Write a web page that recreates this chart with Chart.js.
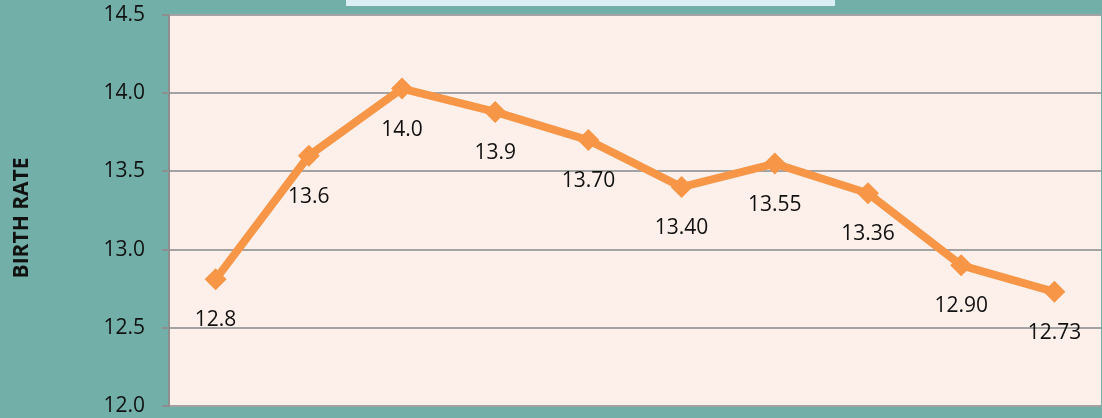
<!DOCTYPE html>
<html>
<head>
<meta charset="utf-8">
<script src="https://cdn.jsdelivr.net/npm/chart.js@4.4.1/dist/chart.umd.min.js"></script>
<style>
  html, body { margin: 0; padding: 0; overflow: hidden; background: #71AFA8; width: 1102px; height: 418px; }
  #wrap { position: relative; width: 1112px; height: 418px; }
  #topbox { position: absolute; left: 346px; top: 0; width: 489px; height: 6px; background: #DAEEF3; z-index: 2; }
  canvas { display: block; }
</style>
</head>
<body>
<div id="wrap">
  <div id="topbox"></div>
  <canvas id="c" width="1112" height="418"></canvas>
</div>
<script>
const categories = ["1", "2", "3", "4", "5", "6", "7", "8", "9", "10"];
const birthRate = [12.81, 13.6, 14.03, 13.88, 13.70, 13.40, 13.55, 13.36, 12.90, 12.73];
const pointLabels = ["12.8", "13.6", "14.0", "13.9", "13.70", "13.40", "13.55", "13.36", "12.90", "12.73"];
const yTicks = [12.0, 12.5, 13.0, 13.5, 14.0, 14.5];
const yTitle = "BIRTH RATE";

const FONT = "'Open Sans', 'Liberation Sans', sans-serif";

const plotBg = {
  id: 'plotBg',
  beforeDraw(chart) {
    const { ctx, chartArea: a } = chart;
    ctx.save();
    ctx.fillStyle = '#FDEFEA';
    ctx.fillRect(a.left, a.top, a.right - a.left, a.bottom - a.top);
    ctx.restore();
  },
  afterDraw(chart) {
    const { ctx } = chart;
    ctx.save();
    ctx.fillStyle = '#111111';
    ctx.font = "bold 21px " + FONT;
    ctx.textAlign = 'center';
    ctx.textBaseline = 'middle';
    ctx.translate(22, 218);
    ctx.rotate(-Math.PI / 2);
    ctx.fillText(yTitle, 0, 0);
    ctx.restore();
  }
};

const valueLabels = {
  id: 'valueLabels',
  afterDatasetsDraw(chart) {
    const { ctx } = chart;
    const meta = chart.getDatasetMeta(0);
    ctx.save();
    ctx.fillStyle = '#111111';
    ctx.font = "21px " + FONT;
    ctx.textAlign = 'center';
    ctx.textBaseline = 'alphabetic';
    meta.data.forEach((pt, i) => {
      ctx.fillText(pointLabels[i], pt.x, pt.y + 47);
    });
    ctx.restore();
  }
};

new Chart(document.getElementById('c'), {
  type: 'line',
  data: {
    labels: categories,
    datasets: [{
      data: birthRate,
      borderColor: '#F79646',
      backgroundColor: '#F79646',
      borderWidth: 8,
      pointStyle: 'rectRot',
      pointRadius: 11,
      pointHoverRadius: 11,
      pointBorderWidth: 0,
      tension: 0,
      clip: false
    }]
  },
  options: {
    responsive: false,
    animation: false,
    devicePixelRatio: 1,
    layout: { padding: 0 },
    plugins: {
      legend: { display: false },
      tooltip: { enabled: false },
      title: { display: false }
    },
    scales: {
      x: {
        type: 'category',
        offset: true,
        display: false,
        grid: { display: false }
      },
      y: {
        min: 12.0,
        max: 14.5,
        afterFit(scale) {
          scale.width = 169;
          scale.paddingTop = 15;
          scale.paddingBottom = 12;
        },
        afterBuildTicks(scale) { scale.ticks = yTicks.map(v => ({ value: v })); },
        ticks: {
          padding: 17,
          color: '#111111',
          font: { family: FONT, size: 21 },
          callback: v => Number(v).toFixed(1)
        },
        grid: {
          color: '#A3A3A3',
          lineWidth: 2,
          tickLength: 7,
          tickColor: '#8E8E8E'
        },
        border: { display: true, color: '#8E8E8E', width: 2 }
      }
    }
  },
  plugins: [plotBg, valueLabels]
});
</script>
</body>
</html>
